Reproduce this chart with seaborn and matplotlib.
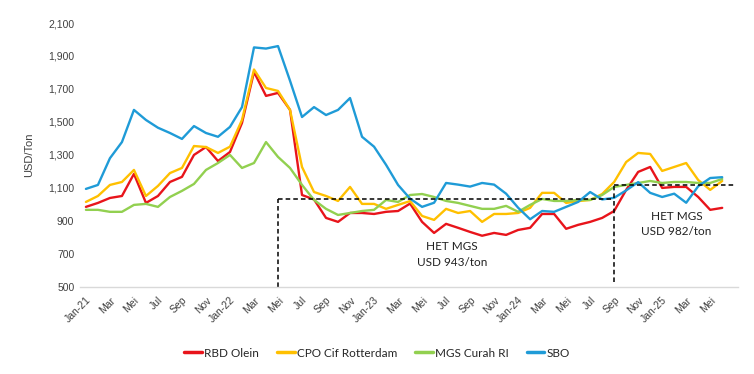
import matplotlib
matplotlib.use("Agg")
import matplotlib.pyplot as plt
import seaborn as sns
import pandas as pd
import numpy as np
from matplotlib.ticker import FuncFormatter

# ---------------- data ----------------
months = list(range(54))  # Jan-21 .. Jun-25
tick_labels = ["Jan-21", "Mar", "Mei", "Jul", "Sep", "Nov",
               "Jan-22", "Mar", "Mei", "Jul", "Sep", "Nov",
               "Jan-23", "Mar", "Mei", "Jul", "Sep", "Nov",
               "Jan-24", "Mar", "Mei", "Jul", "Sep", "Nov",
               "Jan-25", "Mar", "Mei"]

rbd_olein = [985, 1009, 1039, 1051, 1185, 1009, 1051, 1136, 1167, 1300, 1348, 1263, 1318, 1494,
             1803, 1658, 1676, 1573, 1057, 1030, 918, 894, 948, 948, 942, 955, 960, 1005,
             894, 827, 882, 858, 833, 810, 827, 815, 845, 858, 942, 942, 852, 876,
             894, 918, 960, 1088, 1197, 1227, 1100, 1106, 1106, 1045, 967, 979]
cpo_rotterdam = [1015, 1051, 1118, 1136, 1209, 1051, 1112, 1190, 1221, 1354, 1348, 1312, 1350, 1512,
                 1818, 1706, 1688, 1573, 1227, 1075, 1051, 1021, 1106, 1003, 1003, 973, 997, 1020,
                 930, 906, 973, 948, 960, 894, 942, 942, 948, 979, 1070, 1070, 1009, 1020,
                 1027, 1063, 1136, 1257, 1312, 1306, 1203, 1227, 1251, 1148, 1088, 1142]
mgs_curah = [967, 967, 955, 955, 997, 1003, 985, 1045, 1082, 1124, 1209, 1251, 1300, 1221,
             1251, 1378, 1288, 1221, 1118, 1027, 973, 936, 948, 960, 967, 1027, 1015, 1057,
             1063, 1045, 1021, 1009, 991, 973, 973, 991, 955, 997, 1033, 1021, 1021, 1027,
             1027, 1057, 1106, 1118, 1130, 1142, 1130, 1136, 1136, 1130, 1130, 1154]
sbo = [1094, 1118, 1280, 1378, 1573, 1512, 1465, 1433, 1397, 1475, 1433, 1410, 1470, 1590,
       1952, 1945, 1960, 1750, 1530, 1590, 1542, 1573, 1645, 1410, 1350, 1240, 1118, 1035,
       985, 1010, 1130, 1120, 1108, 1130, 1120, 1065, 980, 910, 960, 955, 985, 1015,
       1075, 1030, 1040, 1085, 1135, 1070, 1045, 1065, 1010, 1110, 1160, 1165]

series_names = ["RBD Olein", "CPO Cif Rotterdam", "MGS Curah RI", "SBO"]
colors = ["#e8141b", "#ffc000", "#92d050", "#1f9bd7"]

# HET reference periods (start month index, end month index, level)
het1_start, het1_end, het1_level = 16, 44, 1035
het2_start, het2_end, het2_level = 44, 54.1, 1120
het1_text = "HET MGS\nUSD 943/ton"
het2_text = "HET MGS\nUSD 982/ton"

# ---------------- frame ----------------
df = pd.DataFrame({
    "month": months * 4,
    "value": rbd_olein + cpo_rotterdam + mgs_curah + sbo,
    "series": sum([[n] * len(months) for n in series_names], []),
})

sns.set_theme(style="white")
plt.rcParams["font.family"] = ["Liberation Sans", "DejaVu Sans"]

fig = plt.figure(figsize=(7.54, 3.74), dpi=100)
ax = fig.add_axes([0.106, 0.233, 0.873, 0.7055])

sns.lineplot(data=df, x="month", y="value", hue="series", palette=colors,
             hue_order=series_names, linewidth=1.7, ax=ax, sort=False,
             legend=True)

# dashed HET boxes
dash = dict(color="black", linestyle=(0, (3, 2)), linewidth=1.1)
ax.plot([het1_start, het1_start], [500, het1_level], **dash)
ax.plot([het1_start, het1_end], [het1_level, het1_level], **dash)
ax.plot([het2_start, het2_start], [530, het2_level], **dash)
ax.plot([het2_start, het2_end], [het2_level, het2_level], **dash)

ax.text(30.5, 695, het1_text, ha="center", va="center", fontsize=8.5,
        family=["Lato", "DejaVu Sans"], color="#222222", linespacing=1.5)
ax.text(49.2, 880, het2_text, ha="center", va="center", fontsize=8.5,
        family=["Lato", "DejaVu Sans"], color="#222222", linespacing=1.5)

ax.set_xlim(-0.5, 54.33)
ax.set_ylim(500, 2100)
ax.set_yticks(np.arange(500, 2101, 200))
ax.yaxis.set_major_formatter(FuncFormatter(lambda v, p: f"{int(v):,}"))
ax.set_xticks(months[::2])
ax.set_xticklabels(tick_labels, rotation=45, ha="right", rotation_mode="anchor")
ax.tick_params(axis="both", labelsize=7.5, colors="#404040", length=0, pad=4)
ax.tick_params(axis="x", pad=6)
ax.set_xlabel("")
ax.set_ylabel("USD/Ton", fontsize=8, color="#404040", labelpad=10)

for s in ["top", "right", "left"]:
    ax.spines[s].set_visible(False)
ax.spines["bottom"].set_color("#d9d9d9")
ax.spines["bottom"].set_linewidth(1.0)
ax.grid(False)

handles, labels = ax.get_legend_handles_labels()
ax.legend_.remove()
leg = fig.legend(handles, labels, loc="center", bbox_to_anchor=(0.5, 0.056), ncol=4,
                 frameon=False, handlelength=1.5, handletextpad=0.2, columnspacing=1.5,
                 prop={"family": ["Lato", "DejaVu Sans"], "size": 8.5})
for h in leg.get_lines():
    h.set_linewidth(2.5)

fig.savefig("out.png", dpi=100)
